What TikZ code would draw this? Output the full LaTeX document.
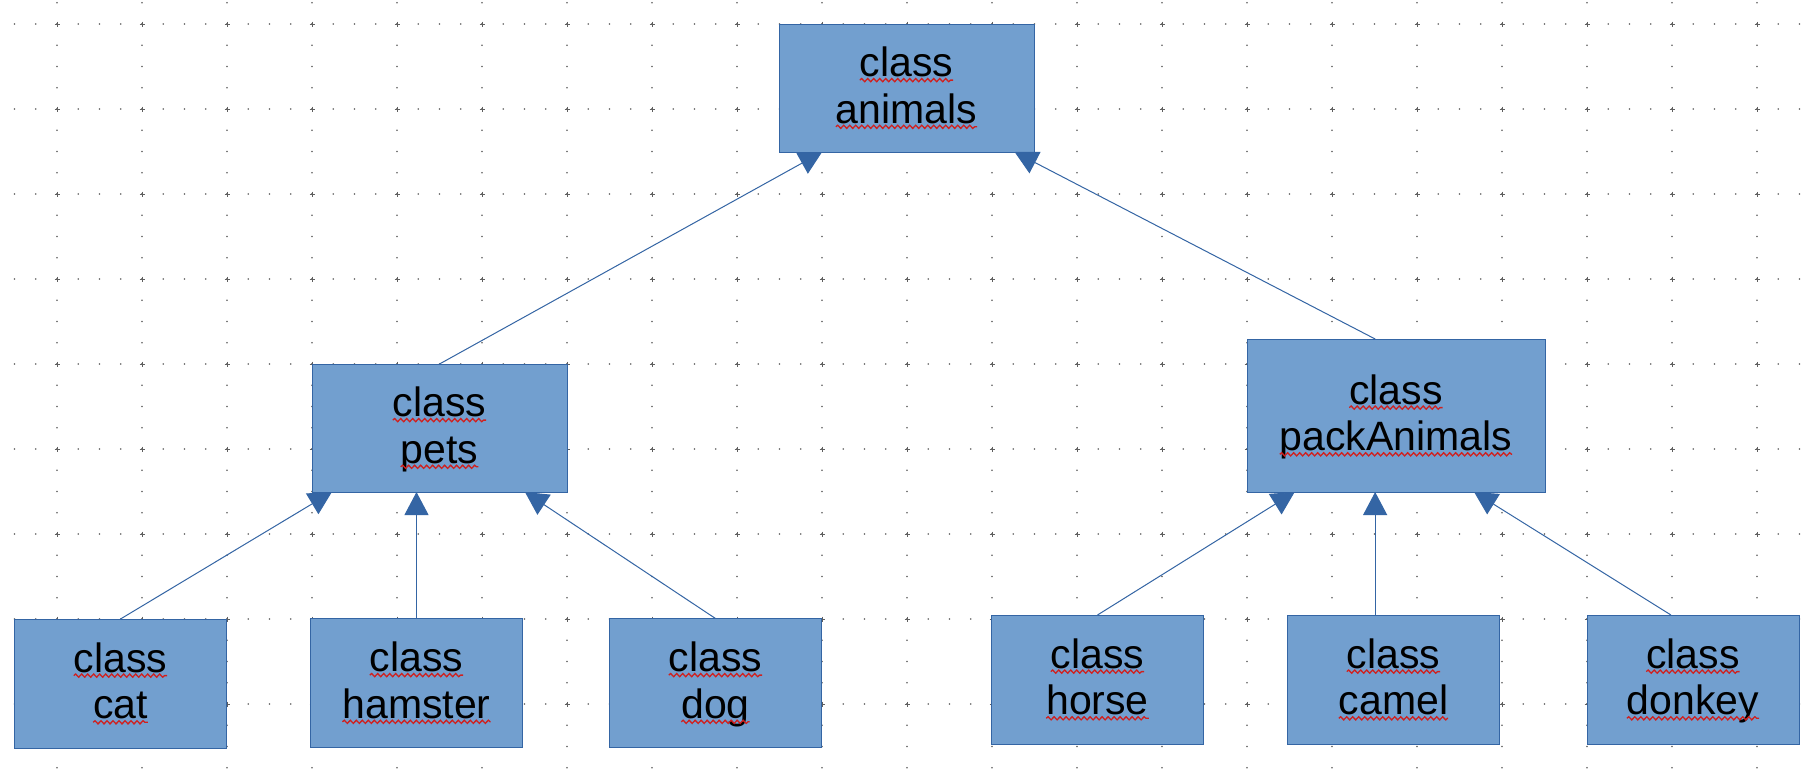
\documentclass[tikz,border=0pt]{standalone}
\usepackage{fontspec}
\setmainfont{Liberation Sans}
\usetikzlibrary{arrows.meta,calc,decorations.pathmorphing}
\tikzset{>={Triangle[length=11.5pt,width=12pt]}}
\definecolor{boxfill}{HTML}{729FCF}
\definecolor{boxline}{HTML}{3465A4}
\definecolor{spellred}{HTML}{D0201E}
\definecolor{griddot}{HTML}{5F5F5F}
\newcommand*{\spell}[1]{\tikz[baseline=(sp.base)]{%
  \node[draw=none,fill=none,inner sep=0pt,outer sep=0pt,minimum width=0pt,
    minimum height=0pt] (sp) {\rule[-5.55pt]{0pt}{23.05pt}#1};
  \draw[spellred,line width=.65pt,decorate,
    decoration={snake,amplitude=.8pt,segment length=3pt}]
    ([yshift=-1.75pt]sp.base west) -- ([yshift=-1.75pt]sp.base east);}}

\begin{document}
\begin{tikzpicture}[x=.5pt,y=-.5pt,
  cls/.style={draw=boxline,fill=boxfill,line width=.5pt,inner sep=0pt,outer sep=0pt,
    align=center,font=\fontsize{20.5pt}{23.35pt}\selectfont},
  leaf/.style={cls,minimum width=106pt,minimum height=64.5pt},
  link/.style={boxline,line width=.5pt,->}]
\useasboundingbox[fill=white] (0,0) rectangle (1816,776);
% dotted grid
\foreach \gy in {24,109,...,704}
  \foreach \gx in {-6.75,14.5,...,1816}
    \fill[griddot] (\gx,\gy) circle (.4pt);
\foreach \gx in {-28,57,...,1842}
  \foreach \gy in {2.75,24,...,776}
    \fill[griddot] (\gx,\gy) circle (.4pt);
\foreach \gx in {57,142,...,1757}
  \foreach \gy in {24,109,...,704}
    \draw[griddot,line width=.5pt] (\gx-2.5,\gy) -- (\gx+2.5,\gy)
      (\gx,\gy-2.5) -- (\gx,\gy+2.5);

\node[cls,minimum width=127.5pt,minimum height=64pt] (animals) at (906.5,88)
  {\spell{class}\\\spell{animals}};
\node[cls,minimum width=127.5pt,minimum height=64pt] (pets) at (439.5,428)
  {\spell{class}\\\spell{pets}};
\node[cls,minimum width=149pt,minimum height=76.5pt] (packAnimals) at (1396,415.5)
  {\spell{class}\\\spell{packAnimals}};
\node[leaf] (cat) at (120.5,683.5) {\spell{class}\\\spell{cat}};
\node[leaf] (hamster) at (416.5,683) {\spell{class}\\\spell{hamster}};
\node[leaf] (dog) at (715.5,683) {\spell{class}\\\spell{dog}};
\node[leaf] (horse) at (1097.5,679.5) {\spell{class}\\\spell{horse}};
\node[leaf] (camel) at (1393.5,679.5) {\spell{class}\\\spell{camel}};
\node[leaf] (donkey) at (1693,679.5) {\spell{class}\\\spell{donkey}};

\draw[link] (pets.north) -- ($(animals.south west)!.169!(animals.south east)$);
\draw[link] ($(packAnimals.north west)!.43!(packAnimals.north east)$) --
  ($(animals.south west)!.924!(animals.south east)$);
\draw[link] (cat.north) -- ($(pets.south west)!.078!(pets.south east)$);
\draw[link] (hamster.north) -- (hamster.north |- pets.south);
\draw[link] (dog.north) -- ($(pets.south west)!.835!(pets.south east)$);
\draw[link] (horse.north) -- ($(packAnimals.south west)!.16!(packAnimals.south east)$);
\coordinate (pk) at ($(packAnimals.south west)!.43!(packAnimals.south east)$);
\draw[link] (pk |- camel.north) -- (pk);
\draw[link] ($(donkey.north west)!.396!(donkey.north east)$) --
  ($(packAnimals.south west)!.762!(packAnimals.south east)$);
\end{tikzpicture}
\end{document}
